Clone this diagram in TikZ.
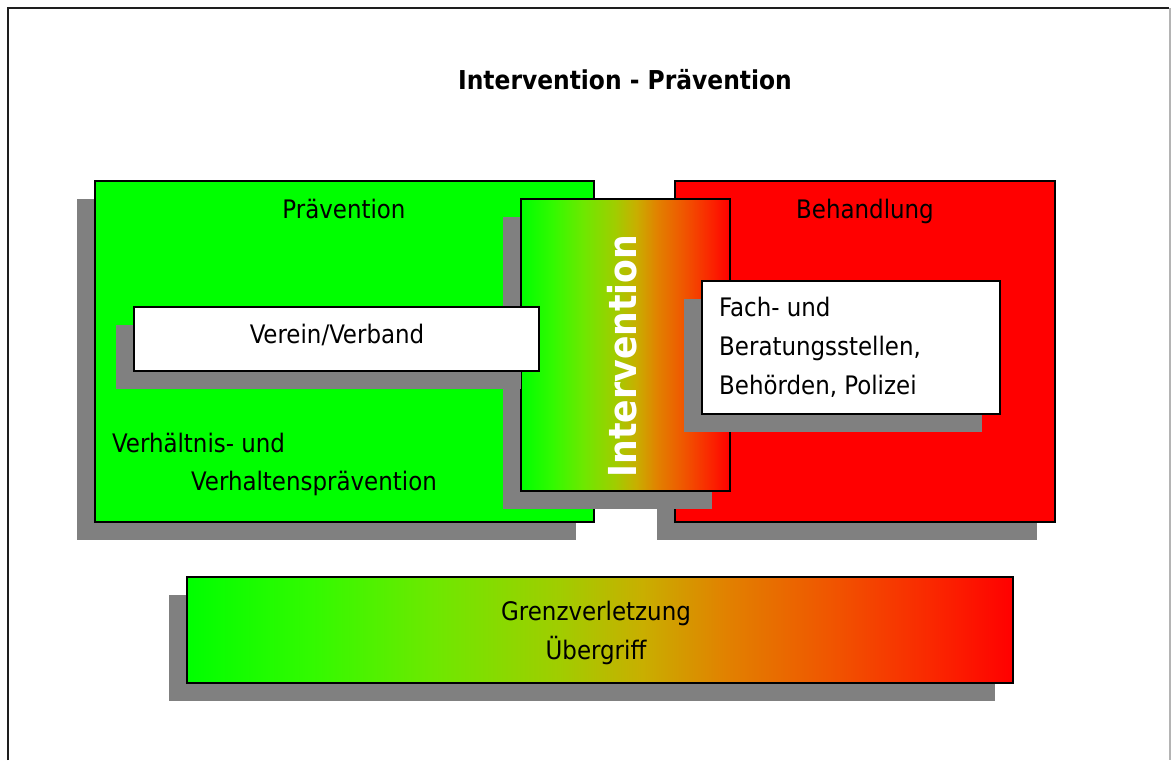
\documentclass[tikz,border=0pt]{standalone}
\usepackage{fontspec}
\setmainfont{DejaVu Sans Condensed}[BoldFont={DejaVu Sans Condensed Bold}]
\usetikzlibrary{shadows}
\definecolor{shadowc}{RGB}{128,128,128}
\definecolor{boxgreen}{RGB}{0,255,0}
\definecolor{boxred}{RGB}{255,0,0}
\definecolor{gA}{RGB}{0,255,0}
\definecolor{gA2}{RGB}{50,250,0}
\definecolor{gB}{RGB}{110,232,0}
\definecolor{gC}{RGB}{160,205,0}
\definecolor{gD}{RGB}{200,175,0}
\definecolor{gE}{RGB}{225,130,0}
\definecolor{gF}{RGB}{240,85,0}
\definecolor{gF2}{RGB}{250,40,0}
\definecolor{gG}{RGB}{255,0,0}
\definecolor{framedark}{RGB}{30,30,30}
\definecolor{framelight}{RGB}{180,180,180}
\pgfdeclarehorizontalshading{greenred}{100bp}{color(0bp)=(gA); color(25bp)=(gA); color(32.5bp)=(gA2); color(40bp)=(gB); color(47.5bp)=(gC); color(52.5bp)=(gD); color(57.5bp)=(gE); color(64bp)=(gF); color(70bp)=(gF2); color(75bp)=(gG); color(100bp)=(gG)}
\tikzset{
  shad/.style={drop shadow={shadow xshift=-18pt,shadow yshift=-18pt,fill=shadowc,opacity=1}},
  panel/.style={draw=black,line width=1.4pt,inner sep=0pt,shad},
  txt/.style={font=\fontsize{25.5}{39}\selectfont,text=black,inner sep=0pt},
}
\begin{document}
\begin{tikzpicture}[x=1pt,y=-1pt]
\useasboundingbox[fill=white] (0,0) rectangle (1172,760);
% frame
\draw[framedark,line width=2pt] (8,760) -- (8,8) -- (1169,8);
\draw[framelight,line width=1.5pt] (1170,8) -- (1170,760);
% title
\node[txt,font=\fontsize{26}{30}\selectfont\bfseries] (title) at (625,80) {Intervention - Prävention};
% big panels
\node[panel,fill=boxgreen,minimum width=499pt,minimum height=341pt] (praev) at (344.5,351.5) {};
\node[panel,fill=boxred,minimum width=380pt,minimum height=341pt] (behand) at (865,351.5) {};
\node[panel,shading=greenred,minimum width=209pt,minimum height=292pt] (interv) at (625.5,345) {};
\node[panel,fill=white,minimum width=405pt,minimum height=64pt] (verein) at (336.5,339) {};
\node[panel,fill=white,minimum width=298pt,minimum height=133pt] (fach) at (851,347.5) {};
\node[panel,shading=greenred,minimum width=826pt,minimum height=106pt] (grenz) at (600,630) {};
% labels
\node[txt] (vereintext) at (337,335) {Verein/Verband};
\node[txt,align=center] (grenztext) at (596,633) {Grenzverletzung\\Übergriff};
\node[txt] (praevlabel) at (344,209) {Prävention};
\node[txt] (behandlabel) at (865,211) {Behandlung};
\node[txt,anchor=north west,align=left] (fachtext) at (719,297) {Fach- und\\Beratungsstellen,\\Behörden, Polizei};
\node[txt,anchor=west] (verh1) at (112,443) {Verhältnis- und};
\node[txt,anchor=west] (verh2) at (191,483) {Verhaltensprävention};
\node[txt,font=\fontsize{38.5}{40}\selectfont\bfseries,text=white,rotate=90] (intervlabel) at (622,356) {Intervention};
\end{tikzpicture}
\end{document}
